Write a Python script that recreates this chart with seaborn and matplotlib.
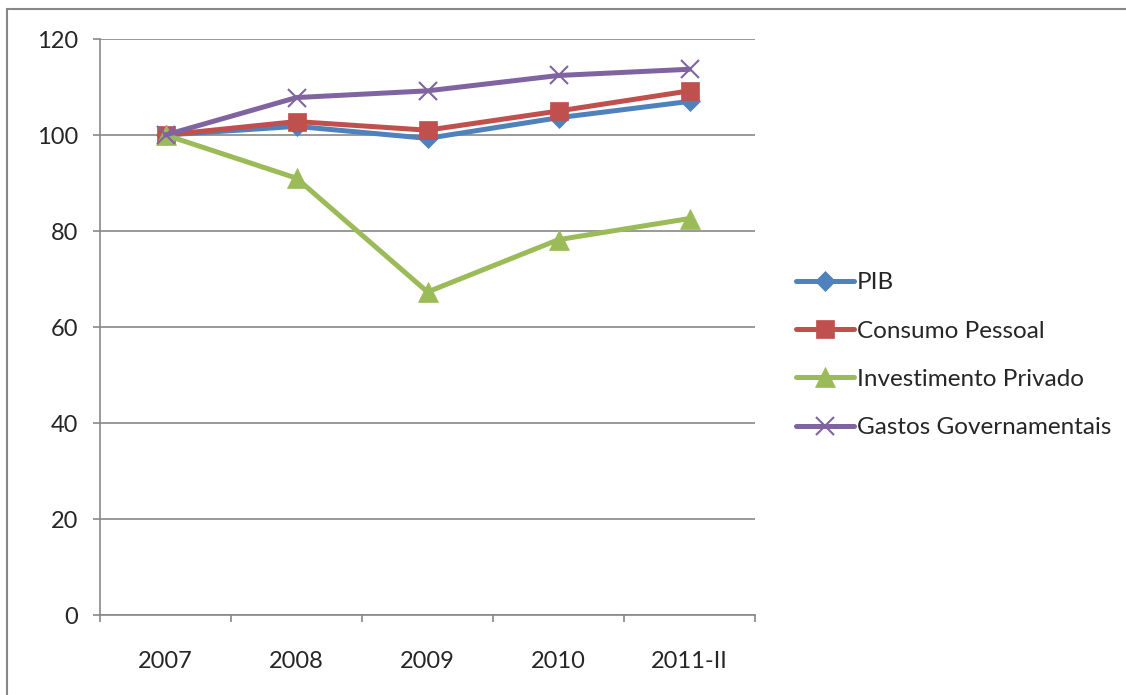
import matplotlib
matplotlib.use("Agg")
import matplotlib.pyplot as plt
import seaborn as sns
import pandas as pd
from matplotlib.patches import Rectangle

periods = ["2007", "2008", "2009", "2010", "2011-II"]
pib = [100.0, 101.8, 99.3, 103.6, 107.0]
consumo = [100.0, 102.8, 101.0, 105.0, 109.2]
investimento = [100.0, 91.0, 67.3, 78.2, 82.6]
gastos = [100.0, 107.8, 109.2, 112.4, 113.7]

series_names = ["PIB", "Consumo Pessoal", "Investimento Privado", "Gastos Governamentais"]
series_values = [pib, consumo, investimento, gastos]
y_ticks = [0, 20, 40, 60, 80, 100, 120]

colors = ["#4F81BD", "#C0504D", "#9BBB59", "#8064A2"]
markers = ["D", "s", "^", "x"]
marker_sizes = [10, 13.5, 15, 13]

df = pd.DataFrame({
    "periodo": periods * len(series_names),
    "valor": [v for vals in series_values for v in vals],
    "serie": [n for n in series_names for _ in periods],
})

sns.set_style("white")
plt.rcParams["font.family"] = ["Lato", "DejaVu Sans"]

FS = 17

fig = plt.figure(figsize=(11.26, 6.95), dpi=100)
ax = fig.add_axes([100 / 1126, 1 - 615 / 695, 655 / 1126, 576 / 695])

for name, color, mk, ms in zip(series_names, colors, markers, marker_sizes):
    sub = df[df["serie"] == name]
    sns.lineplot(data=sub, x="periodo", y="valor", ax=ax, color=color,
                 marker=mk, markersize=ms, linewidth=3.6, label=name,
                 markeredgecolor=color, markeredgewidth=1.5 if mk == "x" else 0.5,
                 sort=False)

grid_col = "#878787"
ax.set_ylim(0, 120)
ax.set_xlim(-0.5, len(periods) - 0.5)
ax.set_yticks(y_ticks)
ax.set_yticklabels([str(t) for t in y_ticks], fontsize=FS)
ax.set_xticks(range(len(periods)))
ax.set_xticklabels(periods, fontsize=FS)
ax.set_xticks([i - 0.5 for i in range(len(periods) + 1)], minor=True)
ax.tick_params(axis="x", which="major", bottom=False, length=0, pad=26)
ax.tick_params(axis="x", which="minor", bottom=True, length=5, color=grid_col,
               width=1.2, direction="out")
ax.tick_params(axis="y", left=True, length=5, color=grid_col, width=1.2,
               direction="out", pad=11)
ax.set_xlabel("")
ax.set_ylabel("")
ax.yaxis.grid(True, color=grid_col, linewidth=1.2)
ax.xaxis.grid(False)
ax.set_axisbelow(True)
for s in ["top", "right"]:
    ax.spines[s].set_visible(False)
for s in ["left", "bottom"]:
    ax.spines[s].set_color(grid_col)
    ax.spines[s].set_linewidth(1.2)

leg = ax.legend(loc="center left", bbox_to_anchor=(1.048, 0.451), frameon=False,
                fontsize=17.5, handlelength=2.4, handletextpad=0.1, labelspacing=1.12,
                borderaxespad=0)

fig.patches.append(Rectangle((6.5 / 1126, -0.1), 1.2, (1 - 9.5 / 695) + 0.1,
                             transform=fig.transFigure, fill=False,
                             edgecolor="#878787", linewidth=1.5))

fig.savefig("out.png", dpi=100)
